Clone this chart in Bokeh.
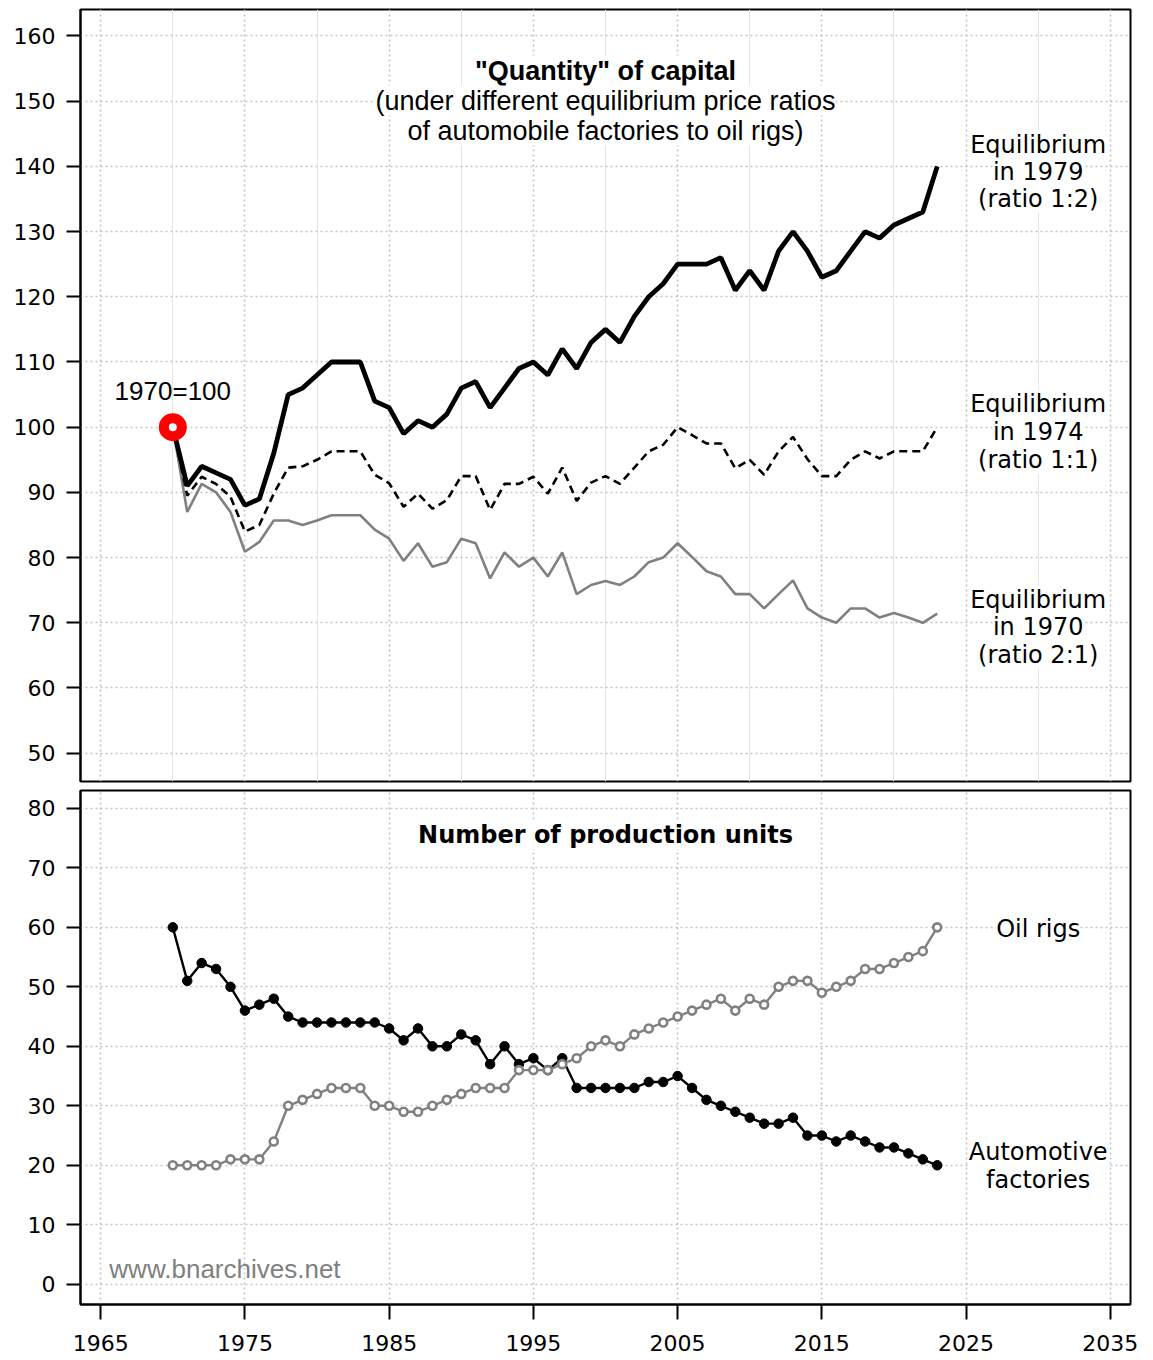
from bokeh.plotting import figure
from bokeh.models import Range1d, FixedTicker, Grid, Label, ColumnDataSource
from bokeh.layouts import column
from bokeh.embed import file_html
from bokeh.resources import INLINE

# ---------------- data ----------------
years = list(range(1970, 2024))

eq_1979 = [100, 91, 94, 93, 92, 88, 89, 96, 105, 106,
           108, 110, 110, 110, 104, 103, 99, 101, 100, 102,
           106, 107, 103, 106, 109, 110, 108, 112, 109, 113,
           115, 113, 117, 120, 122, 125, 125, 125, 126, 121,
           124, 121, 127, 130, 127, 123, 124, 127, 130, 129,
           131, 132, 133, 140]

eq_1974 = [100, 89.5, 92.4, 91.3, 89.3, 84, 85, 89.8, 93.8, 94,
           95, 96.3, 96.3, 96.3, 92.7, 91.4, 87.8, 89.8, 87.5, 88.8,
           92.5, 92.5, 87.3, 91.3, 91.3, 92.4, 89.8, 93.8, 88.7, 91.5,
           92.5, 91.3, 93.8, 96.3, 97.3, 100, 98.8, 97.5, 97.5, 93.7,
           95, 92.7, 96.3, 98.5, 95.1, 92.5, 92.5, 95, 96.3, 95.2,
           96.3, 96.3, 96.3, 100]

eq_1970 = [100, 87, 91.3, 90, 87, 80.9, 82.4, 85.7, 85.7, 85,
           85.7, 86.5, 86.5, 86.5, 84.3, 82.9, 79.5, 82.2, 78.6, 79.3,
           82.9, 82.2, 76.8, 80.8, 78.6, 80, 77.1, 80.8, 74.4, 75.8,
           76.4, 75.8, 77.1, 79.3, 80, 82.2, 80.1, 77.9, 77.1, 74.4,
           74.4, 72.2, 74.4, 76.5, 72.2, 70.8, 70, 72.2, 72.2, 70.8,
           71.5, 70.8, 70, 71.4]

automotive = [60, 51, 54, 53, 50, 46, 47, 48, 45, 44,
              44, 44, 44, 44, 44, 43, 41, 43, 40, 40,
              42, 41, 37, 40, 37, 38, 36, 38, 33, 33,
              33, 33, 33, 34, 34, 35, 33, 31, 30, 29,
              28, 27, 27, 28, 25, 25, 24, 25, 24, 23,
              23, 22, 21, 20]

oil_rigs = [20, 20, 20, 20, 21, 21, 21, 24, 30, 31,
            32, 33, 33, 33, 30, 30, 29, 29, 30, 31,
            32, 33, 33, 33, 36, 36, 36, 37, 38, 40,
            41, 40, 42, 43, 44, 45, 46, 47, 48, 46,
            48, 47, 50, 51, 51, 49, 50, 51, 53, 53,
            54, 55, 56, 60]

base_year = [1970]
base_value = [100]

x_ticks = [1965, 1975, 1985, 1995, 2005, 2015, 2025, 2035]
top_y_ticks = [50, 60, 70, 80, 90, 100, 110, 120, 130, 140, 150, 160]
bottom_y_ticks = [0, 10, 20, 30, 40, 50, 60, 70, 80]

# ---------------- styling helpers ----------------
GRID_COLOR = "#c4c4c4"
TICK_FONT = "DejaVu Sans"


def style_axis(ax, ticks):
    ax.ticker = FixedTicker(ticks=ticks)
    ax.axis_line_color = "black"
    ax.axis_line_width = 2
    ax.major_tick_line_color = "black"
    ax.major_tick_line_width = 2
    ax.major_tick_out = 14
    ax.major_tick_in = 0
    ax.minor_tick_line_color = None
    ax.major_label_text_font = TICK_FONT
    ax.major_label_text_font_size = "22px"
    ax.major_label_text_color = "black"


def add_grids(p, yticks):
    p.add_layout(Grid(dimension=0, ticker=FixedTicker(ticks=x_ticks),
                      grid_line_color=GRID_COLOR, grid_line_dash="2 3",
                      grid_line_width=1.6))
    p.add_layout(Grid(dimension=1, ticker=FixedTicker(ticks=yticks),
                      grid_line_color=GRID_COLOR, grid_line_dash="2 3",
                      grid_line_width=1.6))


def label(p, x, y, text, font="DejaVu Sans", size="24px", style="normal",
          color="black", align="center", bg="white"):
    p.add_layout(Label(x=x, y=y, text=text, text_align=align,
                       text_baseline="middle", text_font=font,
                       text_font_size=size, text_font_style=style,
                       text_color=color, background_fill_color=bg,
                       background_fill_alpha=1.0 if bg else 0.0))


# ---------------- top panel ----------------
p1 = figure(width=1143, height=788,
            x_range=Range1d(1963.6, 2036.4), y_range=Range1d(45.66, 164.06),
            x_axis_location=None, y_axis_location="left",
            output_backend="svg", toolbar_location=None,
            min_border_left=80, min_border_right=13,
            min_border_top=9, min_border_bottom=7)
p1.outline_line_color = "black"
p1.outline_line_width = 2
p1.background_fill_color = "white"
p1.border_fill_color = "white"
style_axis(p1.yaxis[0], top_y_ticks)
p1.yaxis[0].major_label_standoff = 11
p1.ygrid.visible = False
add_grids(p1, top_y_ticks)

src_top = ColumnDataSource(dict(year=years, e79=eq_1979, e74=eq_1974, e70=eq_1970))
p1.line("year", "e70", source=src_top, line_color="#808080", line_width=2.6)
p1.line("year", "e74", source=src_top, line_color="black", line_width=2.6,
        line_dash="8 5")
p1.line("year", "e79", source=src_top, line_color="black", line_width=4.8)
p1.scatter(base_year, base_value, size=18, marker="circle",
           fill_color="white", line_color="#ff0000", line_width=10)

# titles
label(p1, 2000, 154.7, '"Quantity" of capital', font="Liberation Sans",
      size="27px", style="bold")
label(p1, 2000, 150.1, "(under different equilibrium price ratios",
      font="Liberation Sans", size="27px")
label(p1, 2000, 145.5, "of automobile factories to oil rigs)",
      font="Liberation Sans", size="27px")
label(p1, 1970, 105.6, "1970=100", font="Liberation Sans", size="26px", bg=None)

# right-side series labels
for txt, yy in [("Equilibrium", 143.3), ("in 1979", 139.2), ("(ratio 1:2)", 135.0)]:
    label(p1, 2030, yy, txt)
for txt, yy in [("Equilibrium", 103.6), ("in 1974", 99.3), ("(ratio 1:1)", 95.0)]:
    label(p1, 2030, yy, txt)
for txt, yy in [("Equilibrium", 73.5), ("in 1970", 69.3), ("(ratio 2:1)", 65.1)]:
    label(p1, 2030, yy, txt)

# ---------------- bottom panel ----------------
p2 = figure(width=1143, height=572,
            x_range=Range1d(1963.6, 2036.4), y_range=Range1d(-3.4, 83.0),
            x_axis_location="below", y_axis_location="left",
            output_backend="svg", toolbar_location=None,
            min_border_left=80, min_border_right=13,
            min_border_top=2, min_border_bottom=56)
p2.outline_line_color = "black"
p2.outline_line_width = 2
p2.background_fill_color = "white"
p2.border_fill_color = "white"
style_axis(p2.yaxis[0], bottom_y_ticks)
p2.yaxis[0].major_label_standoff = 11
style_axis(p2.xaxis[0], x_ticks)
p2.xaxis[0].major_tick_out = 15
p2.xaxis[0].major_label_standoff = 15
p2.xaxis[0].major_label_text_font_size = "22px"
p2.xgrid.visible = False
p2.ygrid.visible = False
add_grids(p2, bottom_y_ticks)

src_bot = ColumnDataSource(dict(year=years, auto=automotive, oil=oil_rigs))
p2.line("year", "auto", source=src_bot, line_color="black", line_width=2.4)
p2.scatter("year", "auto", source=src_bot, size=9.5, marker="circle",
           fill_color="black", line_color="black")
p2.line("year", "oil", source=src_bot, line_color="#808080", line_width=2.4)
p2.scatter("year", "oil", source=src_bot, size=8, marker="circle",
           fill_color="white", line_color="#808080", line_width=2.6)

label(p2, 2000, 75.5, "Number of production units", font="DejaVu Sans",
      size="24px", style="bold")
label(p2, 2030, 59.8, "Oil rigs")
label(p2, 2030, 22.2, "Automotive")
label(p2, 2030, 17.6, "factories")
label(p2, 1965.6, 2.5, "www.bnarchives.net", font="Liberation Sans",
      size="26px", color="#808080", align="left", bg=None)

layout = column(p1, p2, spacing=0)
open("out.html", "w").write(file_html(layout, INLINE))
